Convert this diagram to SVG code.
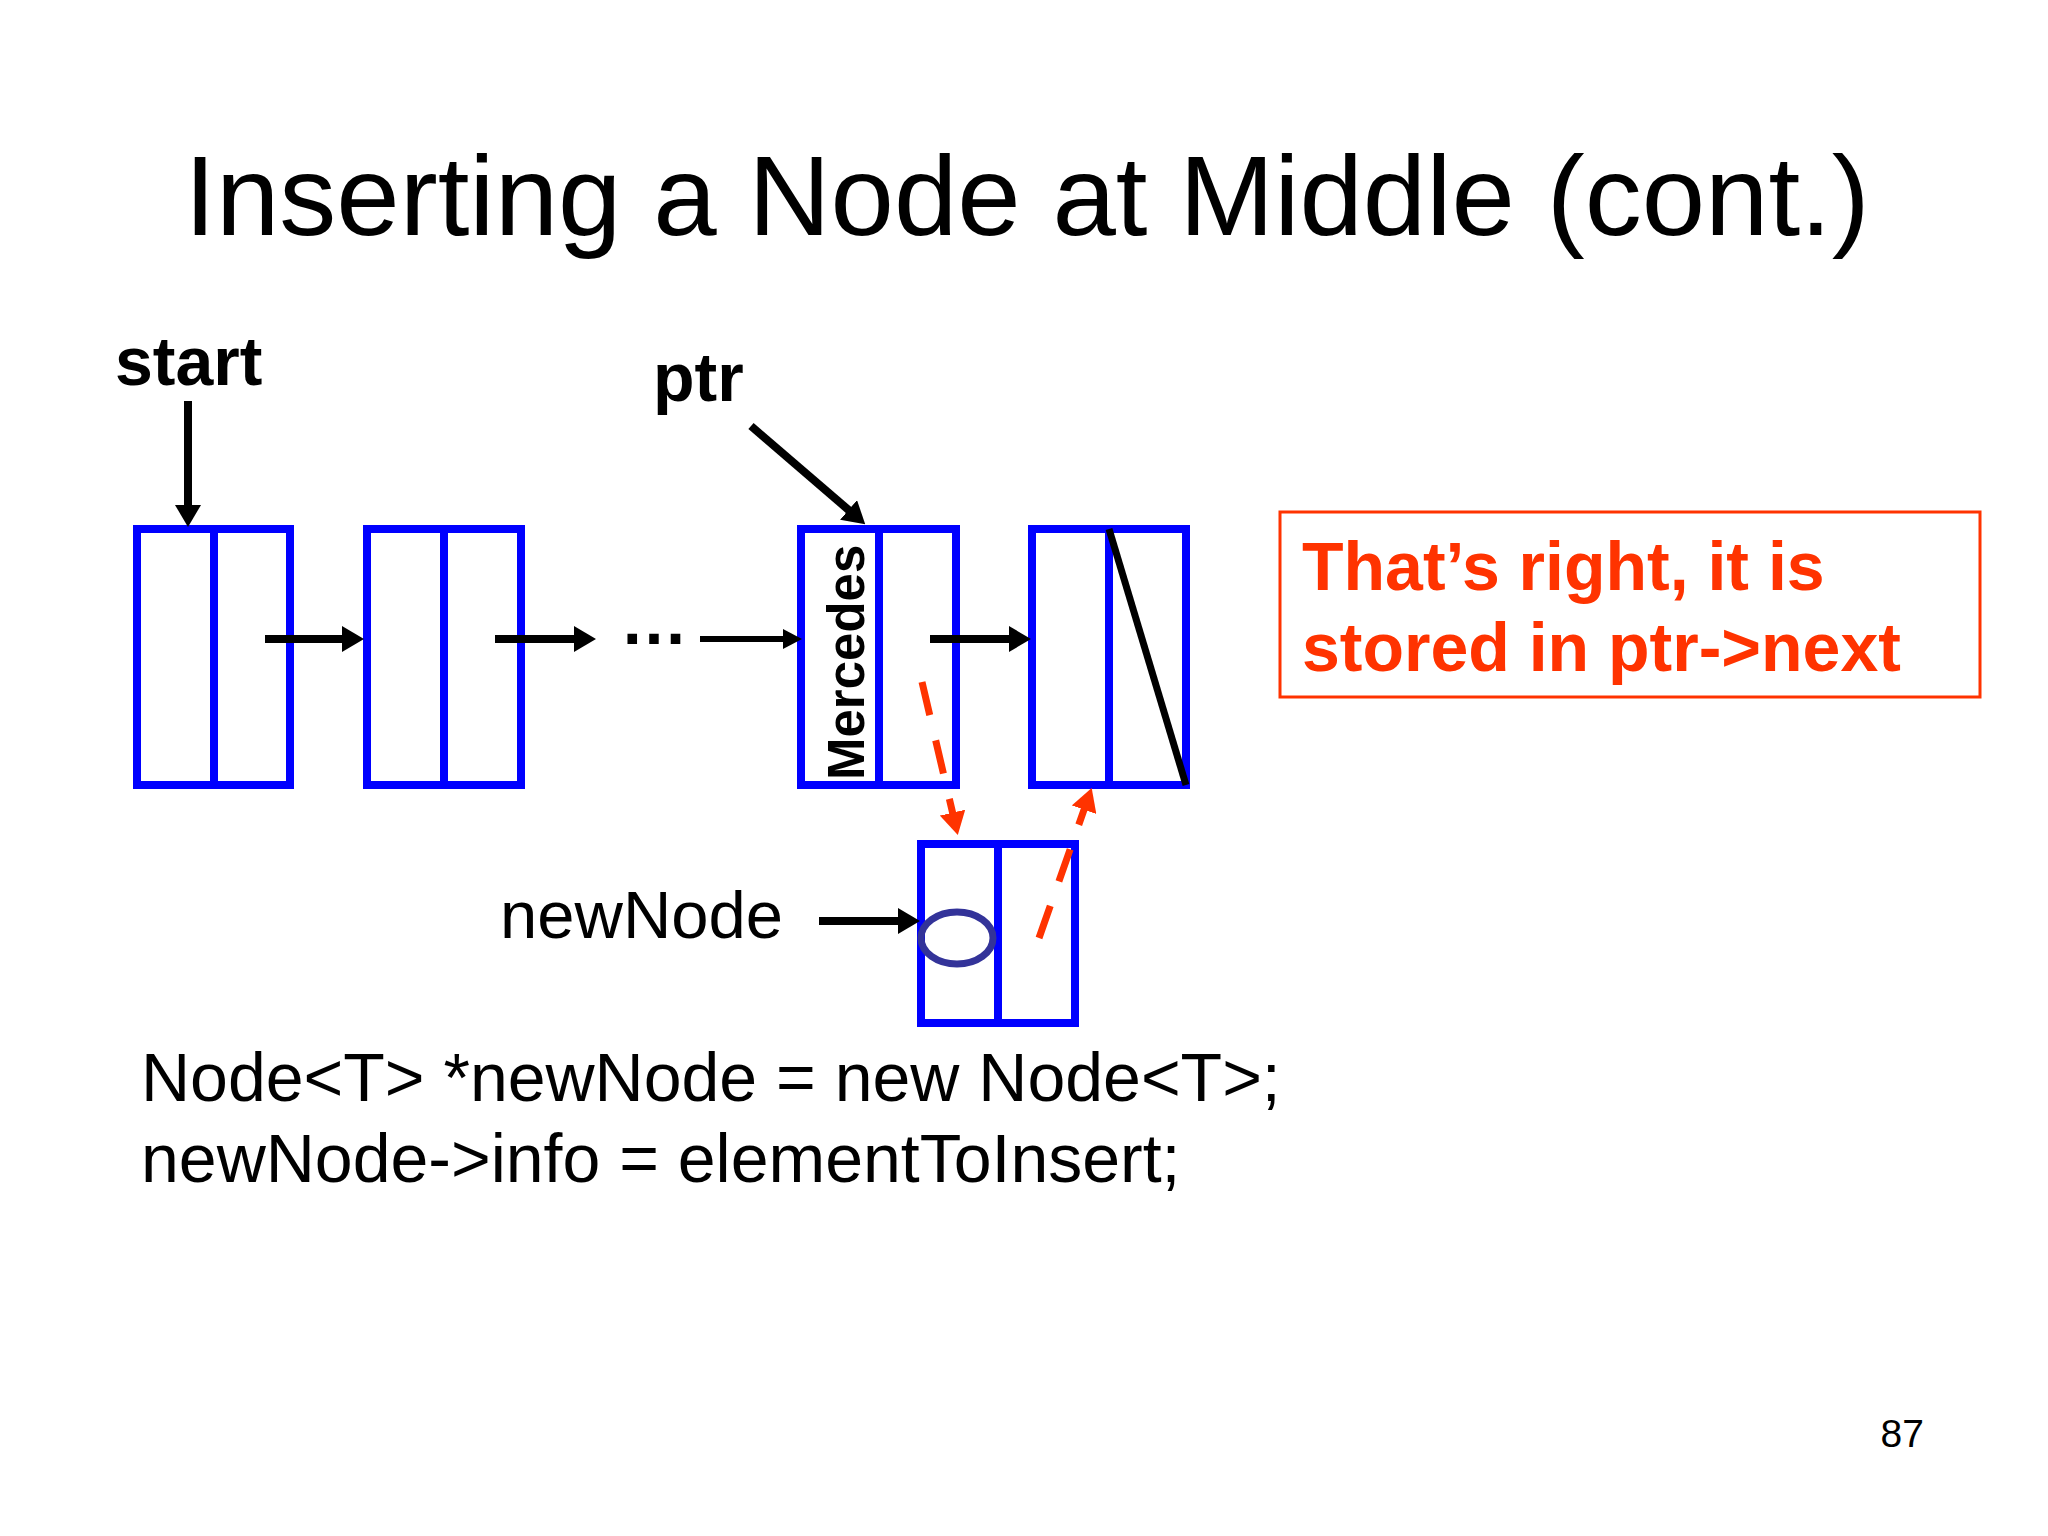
<svg xmlns="http://www.w3.org/2000/svg" width="2048" height="1536" viewBox="0 0 2048 1536">
<style>
.txt{font-family:"Liberation Sans",Arial,sans-serif;fill:#000}
.b{font-weight:bold}
.box{fill:none;stroke:#0000FF;stroke-width:8}
.arr{stroke:#000;stroke-width:8;fill:none}
.thin{stroke:#000;stroke-width:6;fill:none}
.red{stroke:#FF3300;stroke-width:7;fill:none;stroke-dasharray:34 26}
</style>
<defs>
<marker id="ah" markerUnits="userSpaceOnUse" viewBox="0 0 22 26" refX="1" refY="13" markerWidth="22" markerHeight="26" orient="auto"><path d="M0,0 L22,13 L0,26 z" fill="#000"/></marker>
<marker id="ahs" markerUnits="userSpaceOnUse" viewBox="0 0 19 20" refX="1" refY="10" markerWidth="19" markerHeight="20" orient="auto"><path d="M0,0 L19,10 L0,20 z" fill="#000"/></marker>
<marker id="ahr" markerUnits="userSpaceOnUse" viewBox="0 0 23 26" refX="1" refY="13" markerWidth="23" markerHeight="26" orient="auto"><path d="M0,0 L23,13 L0,26 z" fill="#FF3300"/></marker>
</defs>
<rect width="2048" height="1536" fill="#fff"/>
<text class="txt" x="1027" y="235" font-size="114" text-anchor="middle">Inserting a Node at Middle (cont.)</text>
<g id="label-start"><text class="txt b" x="115" y="385" font-size="68">start</text></g>
<g id="label-ptr"><text class="txt b" x="653" y="401" font-size="68">ptr</text></g>
<g id="node1"><rect class="box" x="137" y="529" width="153" height="256"/><line class="box" x1="214" y1="529" x2="214" y2="785"/></g>
<g id="node2"><rect class="box" x="367" y="529" width="154" height="256"/><line class="box" x1="444" y1="529" x2="444" y2="785"/></g>
<g id="ellipsis"><text class="txt b" x="620" y="644" font-size="68">…</text></g>
<g id="node3"><rect class="box" x="801" y="529" width="155" height="256"/><line class="box" x1="879" y1="529" x2="879" y2="785"/>
<text class="txt b" font-size="51" transform="translate(864,780) rotate(-90)">Mercedes</text></g>
<g id="node4"><rect class="box" x="1032" y="529" width="154" height="256"/><line class="box" x1="1109" y1="529" x2="1109" y2="785"/>
<line x1="1109" y1="529" x2="1186" y2="785" stroke="#000" stroke-width="7"/></g>
<g id="newnode"><rect class="box" x="921" y="844" width="154" height="179"/><line class="box" x1="998" y1="844" x2="998" y2="1023"/>
<ellipse cx="957" cy="938" rx="36" ry="26" fill="none" stroke="#333399" stroke-width="7"/></g>
<g id="label-newNode"><text class="txt" x="500" y="938" font-size="67">newNode</text></g>
<g id="callout"><rect x="1280" y="512" width="700" height="185" fill="none" stroke="#FF3300" stroke-width="3"/>
<text class="txt b" x="1302" y="590" font-size="68" style="fill:#FF3300">That’s right, it is</text>
<text class="txt b" x="1302" y="671" font-size="68" style="fill:#FF3300">stored in ptr-&gt;next</text></g>
<g id="connectors">
<line class="arr" x1="188" y1="401" x2="188" y2="506" marker-end="url(#ah)"/>
<line class="arr" x1="751" y1="426" x2="849.3" y2="510.6" marker-end="url(#ah)"/>
<line class="arr" x1="265" y1="639" x2="343" y2="639" marker-end="url(#ah)"/>
<line class="arr" x1="495" y1="639" x2="575" y2="639" marker-end="url(#ah)"/>
<line class="thin" x1="700" y1="639" x2="784" y2="639" marker-end="url(#ahs)"/>
<line class="arr" x1="930" y1="639" x2="1010" y2="639" marker-end="url(#ah)"/>
<line class="arr" x1="819" y1="921" x2="899" y2="921" marker-end="url(#ah)"/>
<line class="red" x1="922" y1="682" x2="952.8" y2="813.6" marker-end="url(#ahr)"/>
<line class="red" x1="1039" y1="938" x2="1084.4" y2="808.7" marker-end="url(#ahr)"/>
</g>
<g id="code">
<text class="txt" x="141" y="1101" font-size="68">Node&lt;T&gt; *newNode = new Node&lt;T&gt;;</text>
<text class="txt" x="141" y="1182" font-size="68">newNode-&gt;info = elementToInsert;</text>
</g>
<text class="txt" x="1924" y="1447" font-size="39" text-anchor="end">87</text>
</svg>
